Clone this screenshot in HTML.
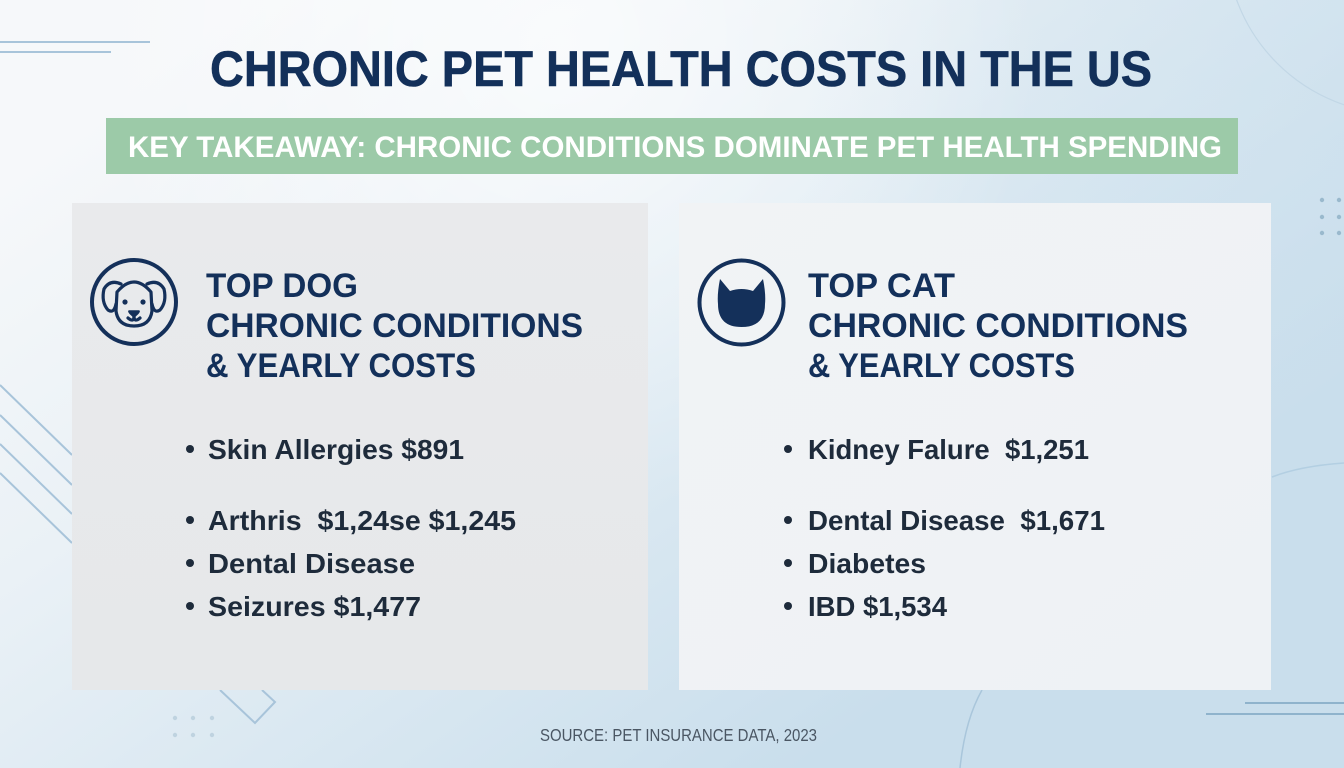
<!DOCTYPE html>
<html><head><meta charset="utf-8"><style>
html,body{margin:0;padding:0;width:1344px;height:768px;overflow:hidden;background:#e8f0f6}
svg{display:block}
text{font-family:"Liberation Sans",Arial,sans-serif;white-space:pre}
</style></head><body>
<svg width="1344" height="768" viewBox="0 0 1344 768" xmlns="http://www.w3.org/2000/svg">
<defs>
<linearGradient id="bg" x1="250" y1="0" x2="800" y2="768" gradientUnits="userSpaceOnUse">
<stop offset="0" stop-color="#f6f8fa"/>
<stop offset="0.35" stop-color="#eaf1f6"/>
<stop offset="0.7" stop-color="#d8e7f1"/>
<stop offset="1" stop-color="#c9deec"/>
</linearGradient>
<linearGradient id="rt" x1="0" y1="0" x2="1344" y2="0" gradientUnits="userSpaceOnUse">
<stop offset="0.6" stop-color="#c9deec" stop-opacity="0"/>
<stop offset="1" stop-color="#c9deec" stop-opacity="0.45"/>
</linearGradient>
<radialGradient id="glow" cx="560" cy="40" r="480" gradientUnits="userSpaceOnUse">
<stop offset="0" stop-color="#ffffff" stop-opacity="0.65"/>
<stop offset="1" stop-color="#ffffff" stop-opacity="0"/>
</radialGradient>
<linearGradient id="lp" x1="0" y1="0" x2="0" y2="1">
<stop offset="0" stop-color="#e9eaec"/>
<stop offset="1" stop-color="#e6e8ea"/>
</linearGradient>
<linearGradient id="rp" x1="0" y1="0" x2="1" y2="1">
<stop offset="0" stop-color="#f1f3f5"/>
<stop offset="1" stop-color="#eef2f5"/>
</linearGradient>
</defs>
<rect width="1344" height="768" fill="url(#bg)"/>
<rect width="1344" height="768" fill="url(#rt)"/>
<rect width="1344" height="768" fill="url(#glow)"/>

<!-- decorations -->
<g stroke="#a8c4da" stroke-width="2" fill="none">
<line x1="0" y1="42" x2="150" y2="42"/>
<line x1="0" y1="52" x2="111" y2="52"/>
<line x1="0" y1="385" x2="72" y2="455"/>
<line x1="0" y1="415" x2="72" y2="485"/>
<line x1="0" y1="444" x2="72" y2="514"/>
<line x1="0" y1="473" x2="72" y2="543"/>
<polyline points="220,690 255,723 275,702 262,690"/>
</g>
<circle cx="1400" cy="-60" r="174" fill="none" stroke="#c2d7e6" stroke-width="1.2"/>
<path d="M1272 477 Q1300 466 1344 463" fill="none" stroke="#b3cfe2" stroke-width="1.5"/>
<path d="M960 768 Q965 720 982 690" fill="none" stroke="#a9c6db" stroke-width="1.5"/>
<g stroke="#8fb3cc" stroke-width="2">
<line x1="1245" y1="703" x2="1344" y2="703"/>
<line x1="1206" y1="714" x2="1344" y2="714"/>
</g>
<g fill="#9ab9cd">
<circle cx="1322" cy="200" r="2.2"/><circle cx="1339" cy="200" r="2.2"/>
<circle cx="1322" cy="217" r="2.2"/><circle cx="1339" cy="217" r="2.2"/>
<circle cx="1322" cy="233" r="2.2"/><circle cx="1339" cy="233" r="2.2"/>
</g>
<g fill="#bfd3e0">
<circle cx="175" cy="718" r="2.2"/><circle cx="193" cy="718" r="2.2"/><circle cx="212" cy="718" r="2.2"/>
<circle cx="175" cy="735" r="2.2"/><circle cx="193" cy="735" r="2.2"/><circle cx="212" cy="735" r="2.2"/>
</g>

<!-- title -->
<text x="210" y="86" font-size="50" font-weight="bold" fill="#13305a" stroke="#13305a" stroke-width="0.6" textLength="942" lengthAdjust="spacingAndGlyphs">CHRONIC PET HEALTH COSTS IN THE US</text>

<!-- banner -->
<rect x="106" y="118" width="1132" height="56" fill="#9ccaa8"/>
<text x="128" y="157" font-size="30" font-weight="bold" fill="#ffffff" textLength="1094" lengthAdjust="spacingAndGlyphs">KEY TAKEAWAY: CHRONIC CONDITIONS DOMINATE PET HEALTH SPENDING</text>

<!-- panels -->
<rect x="72" y="203" width="576" height="487" fill="url(#lp)"/>
<rect x="679" y="203" width="592" height="487" fill="url(#rp)"/>

<!-- dog icon -->
<circle cx="134" cy="302" r="42" fill="none" stroke="#14305a" stroke-width="4"/>
<g fill="none" stroke="#14305a" stroke-width="3.2" stroke-linecap="round" stroke-linejoin="round">
<path d="M117 292 Q134 272 151 292 L152 311 Q150 326 134 326 Q118 326 116 311 Z"/>
<path d="M121 284 Q110 279 104 289 Q101 302 108 310 Q114 314 116 304"/>
<path d="M147 284 Q158 279 164 289 Q167 302 160 310 Q154 314 152 304"/>
<path d="M128 318 Q134 323 134 316 Q134 323 140 318"/>
</g>
<circle cx="125" cy="302" r="2.6" fill="#14305a"/>
<circle cx="143" cy="302" r="2.6" fill="#14305a"/>
<path d="M129 311 L139 311 Q140 312 134 317 Q128 312 129 311 Z" fill="#14305a" stroke="#14305a" stroke-width="1.5" stroke-linejoin="round"/>

<!-- cat icon -->
<circle cx="741.5" cy="302.5" r="42" fill="none" stroke="#14305a" stroke-width="4"/>
<path d="M720 279 L730 291 Q741.5 287 753 291 L763 279 Q766 294 765 304 Q765 327 741.5 327 Q718 327 718 304 Q717 294 720 279 Z" fill="#14305a"/>

<!-- headings -->
<g font-size="34" font-weight="bold" fill="#13305a">
<text x="206" y="297" textLength="152" lengthAdjust="spacingAndGlyphs">TOP DOG</text>
<text x="206" y="337" textLength="377" lengthAdjust="spacingAndGlyphs">CHRONIC CONDITIONS</text>
<text x="206" y="377" textLength="270" lengthAdjust="spacingAndGlyphs">&amp; YEARLY COSTS</text>
<text x="808" y="297" textLength="147" lengthAdjust="spacingAndGlyphs">TOP CAT</text>
<text x="808" y="337" textLength="380" lengthAdjust="spacingAndGlyphs">CHRONIC CONDITIONS</text>
<text x="808" y="377" textLength="267" lengthAdjust="spacingAndGlyphs">&amp; YEARLY COSTS</text>
</g>

<!-- bullets -->
<g fill="#1e2b3b">
<circle cx="190" cy="449" r="4"/><circle cx="190" cy="520" r="4"/><circle cx="190" cy="563" r="4"/><circle cx="190" cy="606" r="4"/>
<circle cx="788" cy="449" r="4"/><circle cx="788" cy="520" r="4"/><circle cx="788" cy="563" r="4"/><circle cx="788" cy="606" r="4"/>
</g>
<g font-size="28" font-weight="bold" fill="#1e2b3b">
<text x="208" y="459" textLength="256" lengthAdjust="spacingAndGlyphs">Skin Allergies $891</text>
<text x="208" y="530" textLength="308" lengthAdjust="spacingAndGlyphs">Arthris  $1,24se $1,245</text>
<text x="208" y="573" textLength="207" lengthAdjust="spacingAndGlyphs">Dental Disease</text>
<text x="208" y="616" textLength="213" lengthAdjust="spacingAndGlyphs">Seizures $1,477</text>
<text x="808" y="459" textLength="281" lengthAdjust="spacingAndGlyphs">Kidney Falure  $1,251</text>
<text x="808" y="530" textLength="297" lengthAdjust="spacingAndGlyphs">Dental Disease  $1,671</text>
<text x="808" y="573" textLength="118" lengthAdjust="spacingAndGlyphs">Diabetes</text>
<text x="808" y="616" textLength="139" lengthAdjust="spacingAndGlyphs">IBD $1,534</text>
</g>

<!-- source -->
<text x="540" y="741" font-size="17.5" fill="#4a5663" textLength="277" lengthAdjust="spacingAndGlyphs">SOURCE: PET INSURANCE DATA, 2023</text>
</svg>
</body></html>
